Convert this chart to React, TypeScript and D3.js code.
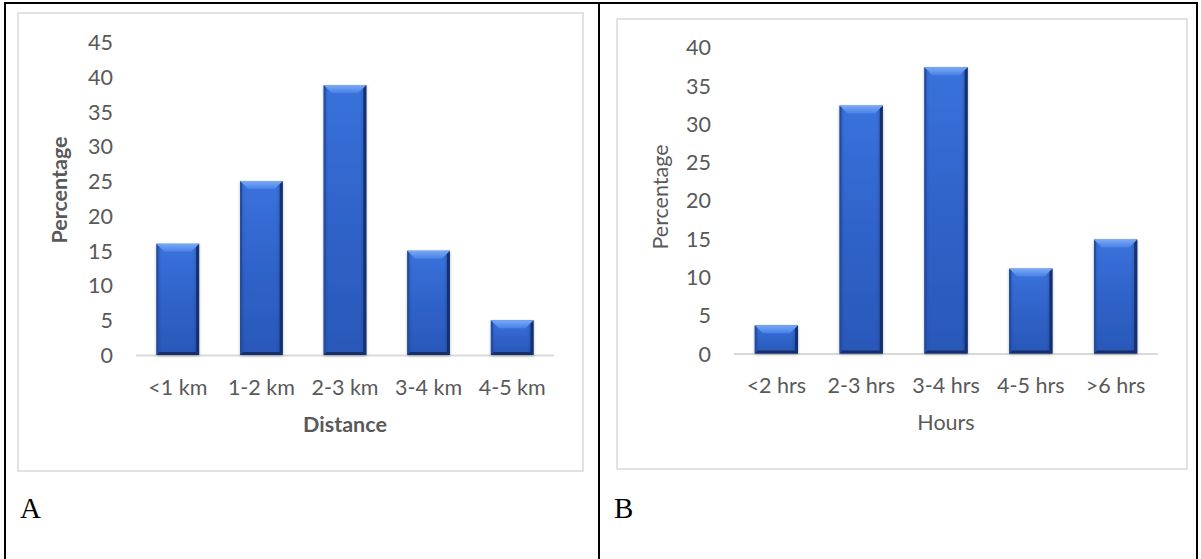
import React from "react";
import * as d3 from "d3";

// Panel A: distance travelled
const distanceCategories = ["<1 km", "1-2 km", "2-3 km", "3-4 km", "4-5 km"];
const distanceValues = [16, 25, 38.8, 15, 5];
const distanceTicks = [0, 5, 10, 15, 20, 25, 30, 35, 40, 45];

// Panel B: hours spent
const hoursCategories = ["<2 hrs", "2-3 hrs", "3-4 hrs", "4-5 hrs", ">6 hrs"];
const hoursValues = [3.7, 32.4, 37.4, 11.1, 14.9];
const hoursTicks = [0, 5, 10, 15, 20, 25, 30, 35, 40];

const W = 1201;
const H = 559;
const TEXT = "#595959";
const GRID = "#d9d9d9";
const FONT = "Lato, 'Open Sans', sans-serif";
const FS = 21.5;

type PanelProps = {
  id: string;
  categories: string[];
  values: number[];
  ticks: number[];
  yMax: number;
  box: [number, number, number, number];
  xRange: [number, number];
  yRange: [number, number];
  tickX: number;
  catY: number;
  title: string;
  titleY: number;
  titleBold: boolean;
  yTitleX: number;
  yTitleY: number;
  letter: string;
  letterX: number;
};

function Bar({ x, y, w, h, id }: { x: number; y: number; w: number; h: number; id: string }) {
  const b = Math.min(8, h / 2);
  const top = `${x},${y} ${x + w},${y} ${x + w - b},${y + b} ${x + b},${y + b}`;
  const right = `${x + w},${y} ${x + w},${y + h} ${x + w - 3},${y + h - 3} ${x + w - 3},${y + 3}`;
  const bottom = `${x},${y + h} ${x + w},${y + h} ${x + w - 3},${y + h - 3} ${x + 3},${y + h - 3}`;
  const left = `${x},${y} ${x},${y + h} ${x + 2},${y + h - 2} ${x + 2},${y + 2}`;
  return (
    <g>
      <rect x={x} y={y} width={w} height={h} fill={`url(#${id}-face)`} filter={`url(#${id}-shadow)`} />
      <rect x={x} y={y} width={w} height={h} fill={`url(#${id}-sides)`} />
      <polygon points={left} fill="#244c9e" />
      <polygon points={right} fill="#16306e" />
      <polygon points={bottom} fill="#172f68" />
      <polygon points={top} fill={`url(#${id}-top)`} />
    </g>
  );
}

function Panel(p: PanelProps) {
  const x = d3.scaleBand<string>().domain(p.categories).range(p.xRange).paddingInner(0.49).paddingOuter(0.245);
  const y = d3.scaleLinear().domain([0, p.yMax]).range(p.yRange);
  const [bx, by, bw, bh] = p.box;
  const xMid = (p.xRange[0] + p.xRange[1]) / 2;
  return (
    <g>
      <defs>
        <linearGradient id={`${p.id}-face`} x1="0" y1="0" x2="0" y2="1">
          <stop offset="0" stopColor="#3a72dc" />
          <stop offset="0.5" stopColor="#2f63c9" />
          <stop offset="1" stopColor="#2a58b8" />
        </linearGradient>
        <linearGradient id={`${p.id}-sides`} x1="0" y1="0" x2="1" y2="0">
          <stop offset="0" stopColor="#0c2a6e" stopOpacity="0.25" />
          <stop offset="0.12" stopColor="#0c2a6e" stopOpacity="0" />
          <stop offset="0.85" stopColor="#0c2a6e" stopOpacity="0" />
          <stop offset="1" stopColor="#0c2a6e" stopOpacity="0.35" />
        </linearGradient>
        <linearGradient id={`${p.id}-top`} x1="0" y1="0" x2="0" y2="1">
          <stop offset="0" stopColor="#79aaf6" />
          <stop offset="1" stopColor="#4a80e6" />
        </linearGradient>
        <filter id={`${p.id}-shadow`} x="-30%" y="-10%" width="160%" height="130%">
          <feDropShadow dx="0" dy="1" stdDeviation="1.5" floodColor="#000" floodOpacity="0.3" />
        </filter>
      </defs>
      <rect x={bx} y={by} width={bw} height={bh} fill="#fff" stroke={GRID} strokeWidth={1.5} />
      {p.ticks.map((t) => (
        <text key={t} x={p.tickX} y={y(t)} textAnchor="end" dominantBaseline="central" fontFamily={FONT} fontSize={FS} fill={TEXT}>
          {t}
        </text>
      ))}
      <line x1={p.xRange[0]} x2={p.xRange[1]} y1={y(0) + 0.5} y2={y(0) + 0.5} stroke={GRID} strokeWidth={2} />
      {p.categories.map((c, i) => (
        <Bar key={c} id={p.id} x={x(c)!} y={y(p.values[i])} w={x.bandwidth()} h={y(0) - y(p.values[i])} />
      ))}
      {p.categories.map((c) => (
        <text key={c} x={x(c)! + x.bandwidth() / 2} y={p.catY} textAnchor="middle" dominantBaseline="central" fontFamily={FONT} fontSize={FS} fill={TEXT}>
          {c}
        </text>
      ))}
      <text x={xMid} y={p.titleY} textAnchor="middle" dominantBaseline="central" fontFamily={FONT} fontSize={FS} fontWeight={p.titleBold ? 700 : 400} fill={TEXT}>
        {p.title}
      </text>
      <text
        transform={`translate(${p.yTitleX},${p.yTitleY}) rotate(-90)`}
        textAnchor="middle"
        dominantBaseline="central"
        fontFamily={FONT}
        fontSize={FS}
        fontWeight={p.titleBold ? 700 : 400}
        fill={TEXT}
      >
        Percentage
      </text>
      <text x={p.letterX} y={518} fontFamily="'Liberation Serif', 'Times New Roman', serif" fontSize={29} fill="#000">
        {p.letter}
      </text>
    </g>
  );
}

export default function App() {
  return (
    <svg width={W} height={H} style={{ position: "absolute", left: 0, top: 0, background: "#fff" }}>
      <rect x={0} y={0} width={W} height={H} fill="#fff" />
      <Panel
        id="pa"
        categories={distanceCategories}
        values={distanceValues}
        ticks={distanceTicks}
        yMax={45}
        box={[18, 13, 565, 458]}
        xRange={[136, 554]}
        yRange={[355, 42]}
        tickX={113}
        catY={387}
        title="Distance"
        titleY={424}
        titleBold={true}
        yTitleX={59}
        yTitleY={190}
        letter="A"
        letterX={20}
      />
      <Panel
        id="pb"
        categories={hoursCategories}
        values={hoursValues}
        ticks={hoursTicks}
        yMax={40}
        box={[617, 19, 570, 450]}
        xRange={[734, 1158]}
        yRange={[353.5, 47.4]}
        tickX={711}
        catY={385}
        title="Hours"
        titleY={422}
        titleBold={false}
        yTitleX={660}
        yTitleY={197}
        letter="B"
        letterX={614}
      />
      {/* outer table rules */}
      <line x1={4} x2={1198} y1={3} y2={3} stroke="#000" strokeWidth={2} />
      <line x1={5} x2={5} y1={2} y2={H} stroke="#000" strokeWidth={2} />
      <line x1={599} x2={599} y1={2} y2={H} stroke="#000" strokeWidth={2} />
      <line x1={1197} x2={1197} y1={2} y2={H} stroke="#000" strokeWidth={2} />
    </svg>
  );
}
